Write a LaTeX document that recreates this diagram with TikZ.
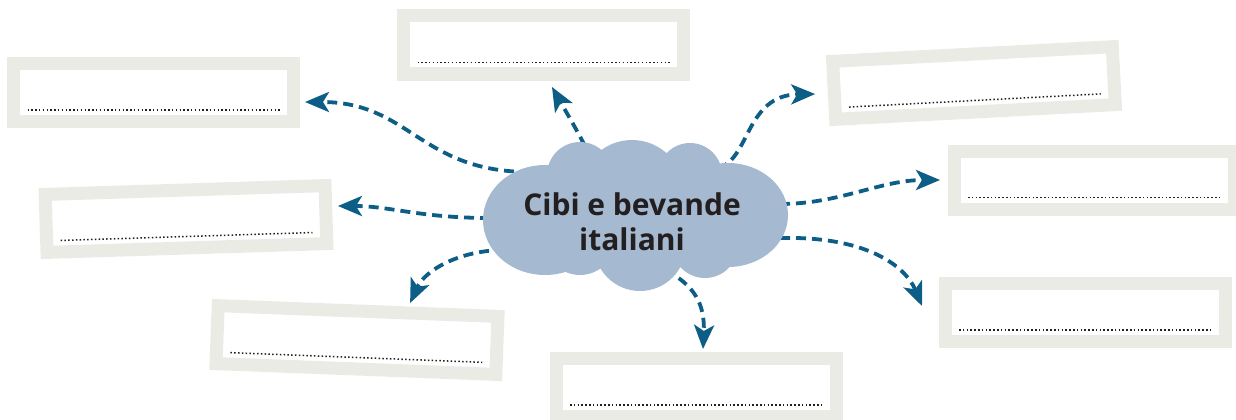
\documentclass[tikz,border=0pt]{standalone}
\usepackage{fontspec}
\setsansfont{Open Sans}
\usetikzlibrary{arrows.meta,backgrounds}
\definecolor{boxgray}{HTML}{EBEBE5}
\definecolor{cloudblue}{HTML}{A5BAD1}
\definecolor{arrowblue}{HTML}{0D5E86}
\definecolor{textdark}{HTML}{231F20}
% empty answer box: name, x, y, angle
\newcommand{\answerbox}[4]{%
  \begin{scope}[shift={(#2,#3)},rotate=#4]
    \node[ansbox] (#1) at (0,0) {};
    \draw[dotline] (-126,17.5) -- (126,17.5);
  \end{scope}}

\begin{document}
\begin{tikzpicture}[x=1pt,y=-1pt,
  ansbox/.style={draw=boxgray,line width=13pt,fill=white,minimum width=280pt,
    minimum height=58pt,inner sep=0pt,outer sep=0pt,transform shape},
  dotline/.style={textdark,line width=1.5pt,dash pattern=on 1.5pt off 2.3pt},
  link/.style={arrowblue,line width=3.8pt,dash pattern=on 10pt off 6pt,
    -{Stealth[length=24pt,width=20pt,inset=6pt]}}]
\useasboundingbox (0,0) rectangle (1236,420);

\answerbox{b1}{153.5}{92.5}{0}
\answerbox{b2}{543.5}{45}{0}
\answerbox{b3}{974}{83}{3}
\answerbox{b4}{1094}{180}{0}
\answerbox{b5}{186}{219}{1.8}
\answerbox{b6}{357}{340}{-2.2}
\answerbox{b7}{696}{387.5}{0}
\answerbox{b8}{1085}{312.5}{0}

\node[align=center,text=textdark,inner sep=0pt,
  font=\sffamily\bfseries\fontsize{30}{35}\selectfont]
  (cloud) at (632,222) {Cibi e bevande\\italiani};

%% connectors, then the cloud puffs over their ends
\begin{scope}[on background layer]
\draw[link] ([shift={(-102,-50)}]cloud.center)
  .. controls (420,172) and (410,102) .. ([shift={(11.5,9.5)}]b1.east);
\draw[link] ([shift={(-40,-62)}]cloud.center)
  .. controls (580,135) and (565,110) .. ([shift={(8.5,13)}]b2.south);
\draw[link] ([shift={(86,-54)}]cloud.center)
  .. controls (750,160) and (745,95) .. ([shift={(-19,3.7)}]b3.west);
\draw[link] ([shift={(148,-18)}]cloud.center)
  .. controls (840,204) and (880,180) .. ([shift={(-14,0)}]b4.west);
\draw[link] ([shift={(-142,-4)}]cloud.center)
  .. controls (420,218) and (390,206) .. ([shift={(12,-8.6)}]b5.east);
\draw[link] ([shift={(-127,28)}]cloud.center)
  .. controls (460,250) and (425,270) .. ([shift={(52,-8)}]b6.north);
\draw[link] ([shift={(33,48)}]cloud.center)
  .. controls (695,285) and (705,305) .. ([shift={(7,-9.5)}]b7.north);
\draw[link] ([shift={(148,16)}]cloud.center)
  .. controls (865,236) and (905,265) .. ([shift={(-23,-6.5)}]b8.west);
\fill[cloudblue] (545,220) ellipse [x radius=62,y radius=55]
  (728,215) ellipse [x radius=60,y radius=52]
  (632,192) circle [radius=52]
  (580,175) circle [radius=33]
  (690,175) circle [radius=32]
  (640,245) circle [radius=46]
  (580,240) circle [radius=35]
  (705,245) circle [radius=33]
  (637,215) ellipse [x radius=120,y radius=55];
\end{scope}
\end{tikzpicture}
\end{document}
